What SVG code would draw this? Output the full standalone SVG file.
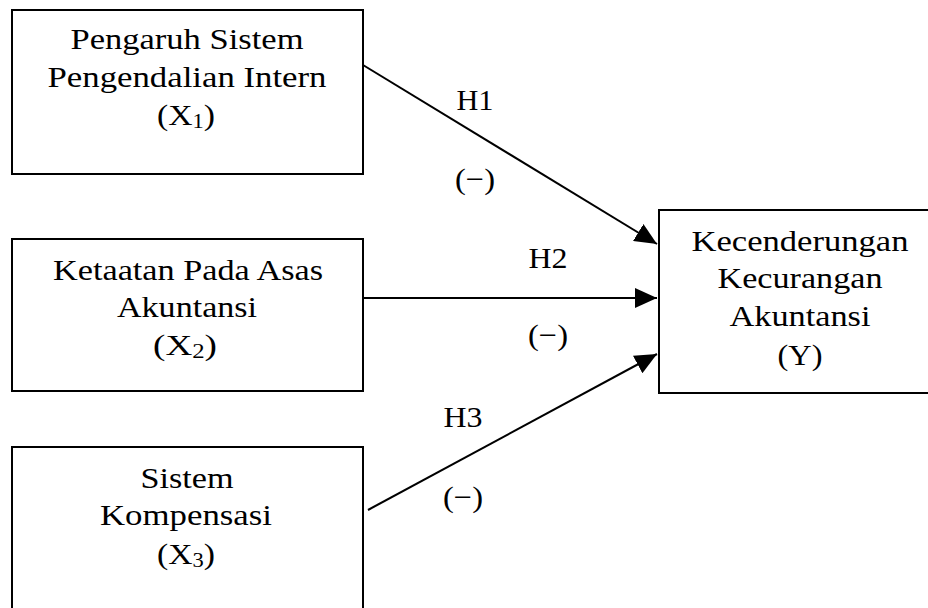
<svg xmlns="http://www.w3.org/2000/svg" width="928" height="608" viewBox="0 0 928 608">
<style>
.box{fill:#fff;stroke:#000;stroke-width:2}
.t{font-family:"Liberation Serif","Times New Roman",serif;font-size:30px;fill:#000;text-anchor:middle}
.sub{font-size:20px}
.conn{stroke:#000;stroke-width:2;fill:none;marker-end:url(#ah)}
</style>
<defs>
<marker id="ah" markerUnits="userSpaceOnUse" markerWidth="22" markerHeight="20" refX="22" refY="10" orient="auto">
<path d="M0,0 L22,10 L0,20 Z" fill="#000"/>
</marker>
</defs>
<rect width="928" height="608" fill="#fff"/>
<g id="x1">
<rect class="box" x="12" y="10" width="351" height="164"/>
<text class="t" x="187" y="49" textLength="233" lengthAdjust="spacingAndGlyphs">Pengaruh Sistem</text>
<text class="t" x="187" y="87" textLength="279" lengthAdjust="spacingAndGlyphs">Pengendalian Intern</text>
<text class="t" x="186" y="125" textLength="58" lengthAdjust="spacingAndGlyphs">(X<tspan class="sub" dy="3">1</tspan><tspan dy="-3">)</tspan></text>
</g>
<g id="x2">
<rect class="box" x="12" y="239" width="351" height="152"/>
<text class="t" x="188" y="280" textLength="270" lengthAdjust="spacingAndGlyphs">Ketaatan Pada Asas</text>
<text class="t" x="187" y="317" textLength="140" lengthAdjust="spacingAndGlyphs">Akuntansi</text>
<text class="t" x="185" y="355" textLength="64" lengthAdjust="spacingAndGlyphs">(X<tspan class="sub" dy="3">2</tspan><tspan dy="-3">)</tspan></text>
</g>
<g id="x3">
<rect class="box" x="12" y="447" width="351" height="170"/>
<text class="t" x="187" y="488" textLength="93" lengthAdjust="spacingAndGlyphs">Sistem</text>
<text class="t" x="186" y="525" textLength="172" lengthAdjust="spacingAndGlyphs">Kompensasi</text>
<text class="t" x="186" y="564" textLength="58" lengthAdjust="spacingAndGlyphs">(X<tspan class="sub" dy="3">3</tspan><tspan dy="-3">)</tspan></text>
</g>
<g id="y">
<rect class="box" x="659" y="210" width="278" height="183"/>
<text class="t" x="800" y="251" textLength="217" lengthAdjust="spacingAndGlyphs">Kecenderungan</text>
<text class="t" x="800" y="288" textLength="165" lengthAdjust="spacingAndGlyphs">Kecurangan</text>
<text class="t" x="800" y="326" textLength="141" lengthAdjust="spacingAndGlyphs">Akuntansi</text>
<text class="t" x="800" y="365" textLength="45" lengthAdjust="spacingAndGlyphs">(Y)</text>
</g>
<g id="connectors">
<line class="conn" x1="363" y1="65" x2="657" y2="244"/>
<line class="conn" x1="363" y1="298" x2="657" y2="298"/>
<line class="conn" x1="368" y1="510" x2="657" y2="354"/>
<text class="t" x="475" y="110" textLength="37" lengthAdjust="spacingAndGlyphs">H1</text>
<text class="t" x="475" y="189" textLength="40" lengthAdjust="spacingAndGlyphs">(−)</text>
<text class="t" x="548" y="268" textLength="39" lengthAdjust="spacingAndGlyphs">H2</text>
<text class="t" x="548" y="345" textLength="40" lengthAdjust="spacingAndGlyphs">(−)</text>
<text class="t" x="463" y="427" textLength="39" lengthAdjust="spacingAndGlyphs">H3</text>
<text class="t" x="463" y="507" textLength="40" lengthAdjust="spacingAndGlyphs">(−)</text>
</g>
</svg>
